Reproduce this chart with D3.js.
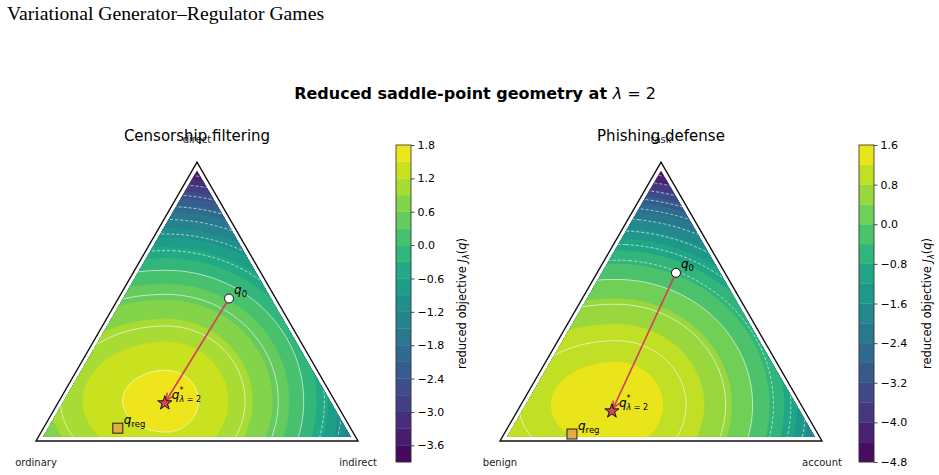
<!DOCTYPE html>
<html lang="en">
<head>
<meta charset="UTF-8">
<title>Reduced saddle-point geometry</title>
<script src="https://d3js.org/d3.v7.min.js"></script>
<style>
body { margin: 0; background: #fff; }
svg text { font-family: "DejaVu Sans", sans-serif; fill: #000; }
</style>
</head>
<body>
<svg id="chart" width="939" height="475"></svg>
<script>
// ---- data ----
const panelTitles = ["Censorship filtering", "Phishing defense"];
// vertex labels: bottom-left, bottom-right, top
const vertexLabels = [["ordinary", "indirect", "direct"], ["benign", "account", "task"]];

// points on the simplex as (bottom-left, bottom-right, top) shares
const startPoints = [[0.145, 0.344, 0.511], [0.152, 0.245, 0.603]];
const saddlePoints = [[0.532, 0.332, 0.136], [0.599, 0.294, 0.107]];
const regPoints = [[0.723, 0.231, 0.046], [0.764, 0.211, 0.025]];

// shape of the reduced objective surface:
// drop from the peak = linear * r + cubic * r^3, r stretched left / right
const peakValues = [1.78, 1.5];
const peakPoints = [[0.525, 0.332, 0.143], [0.575, 0.296, 0.129]];
const linearDrop = [2.83, 2.02];
const cubicDrop = [9.38, 12.0];
const stretchLeft = [0.713, 0.663];
const stretchRight = [0.95, 0.92];

// filled levels, contour line levels, colorbar ticks
const fillLevels = [
  [-3.9, -3.6, -3.3, -3.0, -2.7, -2.4, -2.1, -1.8, -1.5, -1.2, -0.9, -0.6, -0.3, 0, 0.3, 0.6, 0.9, 1.2, 1.5, 1.8],
  [-4.8, -4.4, -4.0, -3.6, -3.2, -2.8, -2.4, -2.0, -1.6, -1.2, -0.8, -0.4, 0, 0.4, 0.8, 1.2, 1.6]
];
const lineLevels = [
  [-3.5, -3.0, -2.5, -2.0, -1.5, -1.0, -0.5, 0, 0.5, 1.0, 1.5],
  [-4.5, -4.0, -3.5, -3.0, -2.5, -2.0, -1.5, -1.0, -0.5, 0, 0.5, 1.0]
];
const cbTicks = [
  [-3.6, -3.0, -2.4, -1.8, -1.2, -0.6, 0, 0.6, 1.2, 1.8],
  [-4.8, -4.0, -3.2, -2.4, -1.6, -0.8, 0, 0.8, 1.6]
];

// ---- drawing ----
const S3 = Math.sqrt(3) / 2;
const svg = d3.select("#chart");

const layout = [
  {x0: 36, x1: 358, cbX: 396, labX: 466},
  {x0: 500, x1: 822, cbX: 859, labX: 931}
];
const baseY = 441, cbTop = 145, cbBottom = 462, cbW = 15;

function field(p, a, b, c) {
  const x = b + c / 2, y = c * S3;
  const pk = peakPoints[p];
  let dx = x - (pk[1] + pk[2] / 2);
  dx *= dx < 0 ? stretchLeft[p] : stretchRight[p];
  const dy = y - pk[2] * S3;
  const r = Math.sqrt(dx * dx + dy * dy);
  return peakValues[p] - linearDrop[p] * r - cubicDrop[p] * r * r * r;
}

svg.append("text")
  .attr("x", 7).attr("y", 20)
  .style("font-family", "'Liberation Serif', 'Times New Roman', serif")
  .style("font-size", "19.7px")
  .text("Variational Generator\u2013Regulator Games");

const sup = svg.append("text")
  .attr("x", 475).attr("y", 99)
  .attr("text-anchor", "middle")
  .style("font-size", "16px").style("font-weight", "bold");
sup.append("tspan").text("Reduced saddle-point geometry at ");
sup.append("tspan").style("font-weight", "normal").style("font-style", "italic").text("\u03bb");
sup.append("tspan").style("font-weight", "normal").text(" = 2");

const defs = svg.append("defs");

layout.forEach((L, p) => {
  const w = L.x1 - L.x0;
  const xs = d3.scaleLinear().domain([0, 1]).range([L.x0, L.x1]);
  const ys = d3.scaleLinear().domain([0, 1]).range([baseY, baseY - w]);
  const toXY = q => [xs(q[1] + q[2] / 2), ys(q[2] * S3)];

  const levels = fillLevels[p];
  const lmin = levels[0], lmax = levels[levels.length - 1];
  const colorOf = k => d3.interpolateViridis(((levels[k] + levels[k + 1]) / 2 - lmin) / (lmax - lmin));

  // grid over the bounding box of the triangle
  const nx = 260, ny = Math.ceil(S3 * (nx - 1)) + 2;
  const values = new Float64Array(nx * ny);
  for (let j = 0; j < ny; j++) {
    for (let i = 0; i < nx; i++) {
      const x = i / (nx - 1), y = j / (nx - 1);
      const c = y / S3, b = x - c / 2, a = 1 - b - c;
      values[j * nx + i] = field(p, a, b, c);
    }
  }
  const proj = d3.geoTransform({
    point(X, Y) { this.stream.point(xs((X - 0.5) / (nx - 1)), ys((Y - 0.5) / (nx - 1))); }
  });
  const path = d3.geoPath(proj);

  // clip to slightly inset simplex
  const e = 0.015;
  const inset = [[1 - 2 * e, e, e], [e, 1 - 2 * e, e], [e, e, 1 - 2 * e]].map(toXY);
  defs.append("clipPath").attr("id", "clip" + p)
    .append("path").attr("d", "M" + inset.join("L") + "Z");

  const g = svg.append("g").attr("clip-path", `url(#clip${p})`);
  const fills = d3.contours().size([nx, ny]).thresholds(levels.slice(0, -1))(values);
  g.selectAll("path.band").data(fills).join("path")
    .attr("class", "band")
    .attr("d", path)
    .attr("fill", (d, k) => colorOf(k))
    .attr("stroke", (d, k) => colorOf(k))
    .attr("stroke-width", 0.3);

  const lines = d3.contours().size([nx, ny]).thresholds(lineLevels[p])(values);
  g.selectAll("path.iso").data(lines).join("path")
    .attr("class", "iso")
    .attr("d", path)
    .attr("fill", "none")
    .attr("stroke", "#fff")
    .attr("stroke-opacity", 0.85)
    .attr("stroke-width", 0.75)
    .attr("stroke-dasharray", d => d.value < 0 ? "3,2" : null);

  // simplex outline
  const corners = [[1, 0, 0], [0, 1, 0], [0, 0, 1]].map(toXY);
  svg.append("path")
    .attr("d", "M" + corners.join("L") + "Z")
    .attr("fill", "none").attr("stroke", "#111").attr("stroke-width", 1.4)
    .attr("stroke-linejoin", "miter");

  // vertex labels
  const vl = vertexLabels[p];
  [[corners[0][0], baseY + 25], [corners[1][0], baseY + 25], [corners[2][0], corners[2][1] - 19]]
    .forEach((pos, k) => {
      svg.append("text").attr("x", pos[0]).attr("y", pos[1])
        .attr("text-anchor", "middle").style("font-size", "10px").style("fill", "#222")
        .text(vl[k]);
    });

  // panel title (drawn over the top label)
  svg.append("text")
    .attr("x", corners[2][0]).attr("y", 141)
    .attr("text-anchor", "middle").style("font-size", "15px")
    .text(panelTitles[p]);

  // arrow from start to saddle point
  const s = toXY(startPoints[p]), t = toXY(saddlePoints[p]);
  const ang = Math.atan2(t[1] - s[1], t[0] - s[0]);
  const ux = Math.cos(ang), uy = Math.sin(ang);
  const a0 = [s[0] + ux * 5, s[1] + uy * 5], a1 = [t[0] - ux * 3, t[1] - uy * 3];
  const arrowColor = "#d43f5c";
  svg.append("line")
    .attr("x1", a0[0]).attr("y1", a0[1]).attr("x2", a1[0]).attr("y2", a1[1])
    .attr("stroke", arrowColor).attr("stroke-width", 1.6);
  const head = [-0.45, 0.45].map(da => [a1[0] - 8 * Math.cos(ang + da), a1[1] - 8 * Math.sin(ang + da)]);
  svg.append("path")
    .attr("d", `M${head[0]}L${a1}L${head[1]}`)
    .attr("fill", "none").attr("stroke", arrowColor).attr("stroke-width", 1.6);

  // markers
  svg.append("circle").attr("cx", s[0]).attr("cy", s[1]).attr("r", 4.5)
    .attr("fill", "#fff").attr("stroke", "#111").attr("stroke-width", 1);
  svg.append("path").attr("d", d3.symbol(d3.symbolStar, 62)())
    .attr("transform", `translate(${t[0]},${t[1]})`)
    .attr("fill", "#d8455c").attr("stroke", "#111").attr("stroke-width", 1);
  const r = toXY(regPoints[p]);
  svg.append("rect").attr("x", r[0] - 5).attr("y", r[1] - 5).attr("width", 10).attr("height", 10)
    .attr("fill", "#e2ad3f").attr("stroke", "#222").attr("stroke-width", 1);

  // marker labels
  const lab0 = svg.append("text").attr("x", s[0] + 5).attr("y", s[1] - 5).style("font-size", "12px");
  lab0.append("tspan").style("font-style", "italic").text("q");
  lab0.append("tspan").attr("dy", 3).style("font-size", "8.5px").text("0");

  const labS = svg.append("text").attr("x", t[0] + 7).attr("y", t[1] - 4).style("font-size", "12px");
  labS.append("tspan").style("font-style", "italic").text("q");
  labS.append("tspan").attr("dy", -6).style("font-size", "8px").text("*");
  labS.append("tspan").attr("dx", -4).attr("dy", 9).style("font-size", "8px").style("font-style", "italic").text("\u03bb");
  labS.append("tspan").style("font-size", "8px").text(" = 2");

  const labR = svg.append("text").attr("x", r[0] + 6).attr("y", r[1] - 4).style("font-size", "12px");
  labR.append("tspan").style("font-style", "italic").text("q");
  labR.append("tspan").attr("dy", 3).style("font-size", "8.5px").text("reg");

  // colorbar
  const cy = d3.scaleLinear().domain([lmin, lmax]).range([cbBottom, cbTop]);
  const cb = svg.append("g");
  cb.selectAll("rect").data(d3.range(levels.length - 1)).join("rect")
    .attr("x", L.cbX).attr("width", cbW)
    .attr("y", k => cy(levels[k + 1]))
    .attr("height", k => cy(levels[k]) - cy(levels[k + 1]))
    .attr("fill", k => colorOf(k))
    .attr("stroke", k => colorOf(k)).attr("stroke-width", 0.3);
  cb.append("rect")
    .attr("x", L.cbX).attr("y", cbTop).attr("width", cbW).attr("height", cbBottom - cbTop)
    .attr("fill", "none").attr("stroke", "#333").attr("stroke-width", 0.8);
  const ax = cb.append("g").attr("transform", `translate(${L.cbX + cbW},0)`)
    .call(d3.axisRight(cy).tickValues(cbTicks[p]).tickSize(3.5).tickPadding(3).tickFormat(d3.format(".1f")));
  ax.select(".domain").remove();
  ax.selectAll("line").attr("stroke", "#222").attr("stroke-width", 0.8);
  ax.selectAll("text").style("font-size", "11px").style("font-family", "'DejaVu Sans', sans-serif").attr("fill", "#000");

  const cl = svg.append("text")
    .attr("transform", `translate(${L.labX},${(cbTop + cbBottom) / 2}) rotate(-90)`)
    .attr("text-anchor", "middle").style("font-size", "11.5px");
  cl.append("tspan").text("reduced objective ");
  cl.append("tspan").style("font-style", "italic").text("J");
  cl.append("tspan").attr("dy", 3).style("font-size", "8px").style("font-style", "italic").text("\u03bb");
  cl.append("tspan").attr("dy", -3).text("(");
  cl.append("tspan").style("font-style", "italic").text("q");
  cl.append("tspan").text(")");
});
</script>
</body>
</html>
